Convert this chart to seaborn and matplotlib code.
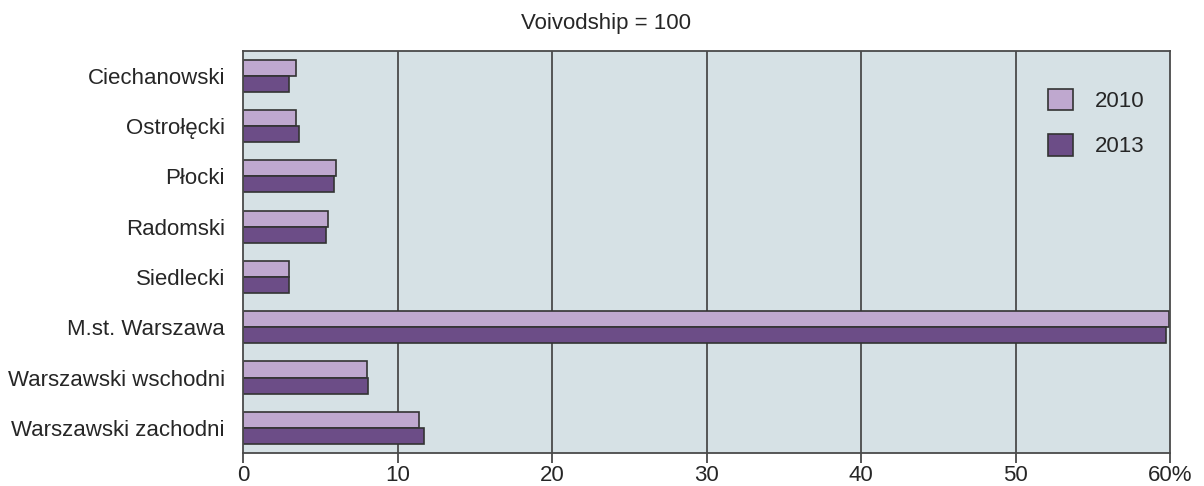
import pandas as pd
import matplotlib.pyplot as plt
import seaborn as sns

# Data
subregions = ['Ciechanowski', 'Ostrołęcki', 'Płocki', 'Radomski', 'Siedlecki',
              'M.st. Warszawa', 'Warszawski wschodni', 'Warszawski zachodni']
share_2010 = [3.4, 3.4, 6.0, 5.5, 3.0, 59.9, 8.0, 11.4]
share_2013 = [3.0, 3.6, 5.9, 5.4, 3.0, 59.7, 8.1, 11.7]
years = ['2010', '2013']
x_ticks = [0, 10, 20, 30, 40, 50, 60]
x_labels = ['0', '10', '20', '30', '40', '50', '60%']

sns.set_theme(style='white')
plt.rcParams['font.family'] = ['Liberation Sans', 'DejaVu Sans']

df = pd.DataFrame({
    'Podregion': subregions * 2,
    'Rok': [years[0]] * len(subregions) + [years[1]] * len(subregions),
    'Udział': share_2010 + share_2013,
})

fig = plt.figure(figsize=(12.04, 4.86), dpi=100)
ax = fig.add_axes([0.2018, 0.068, 0.7702, 0.8277])
ax.set_facecolor('#d6e1e5')

sns.barplot(data=df, y='Podregion', x='Udział', hue='Rok', orient='h',
            palette=['#bfa8cf', '#6c4d87'], width=0.64, edgecolor='#333333',
            linewidth=1.2, ax=ax, saturation=1)

ax.set_xlim(0, 60)
ax.set_xticks(x_ticks)
ax.set_xticklabels(x_labels)
for v in x_ticks[1:-1]:
    ax.axvline(v, color='#4a4a4a', lw=1.3, zorder=0)
ax.set_xlabel('')
ax.set_ylabel('')
ax.tick_params(axis='x', length=7, width=1.3, color='#4a4a4a', labelsize=16, pad=2,
               bottom=True)
ax.tick_params(axis='y', length=0, labelsize=16, pad=13)
for s in ax.spines.values():
    s.set_color('#4a4a4a')
    s.set_linewidth(1.3)

leg = ax.legend(loc='upper right', frameon=False, fontsize=16, handlelength=1.1,
                handleheight=1.1, labelspacing=1.0, handletextpad=1.0,
                bbox_to_anchor=(0.994, 0.955), title=None)

fig.text(0.503, 0.952, 'Voivodship = 100', ha='center', va='center', fontsize=16)

fig.savefig('out.png', dpi=100, facecolor='white')
